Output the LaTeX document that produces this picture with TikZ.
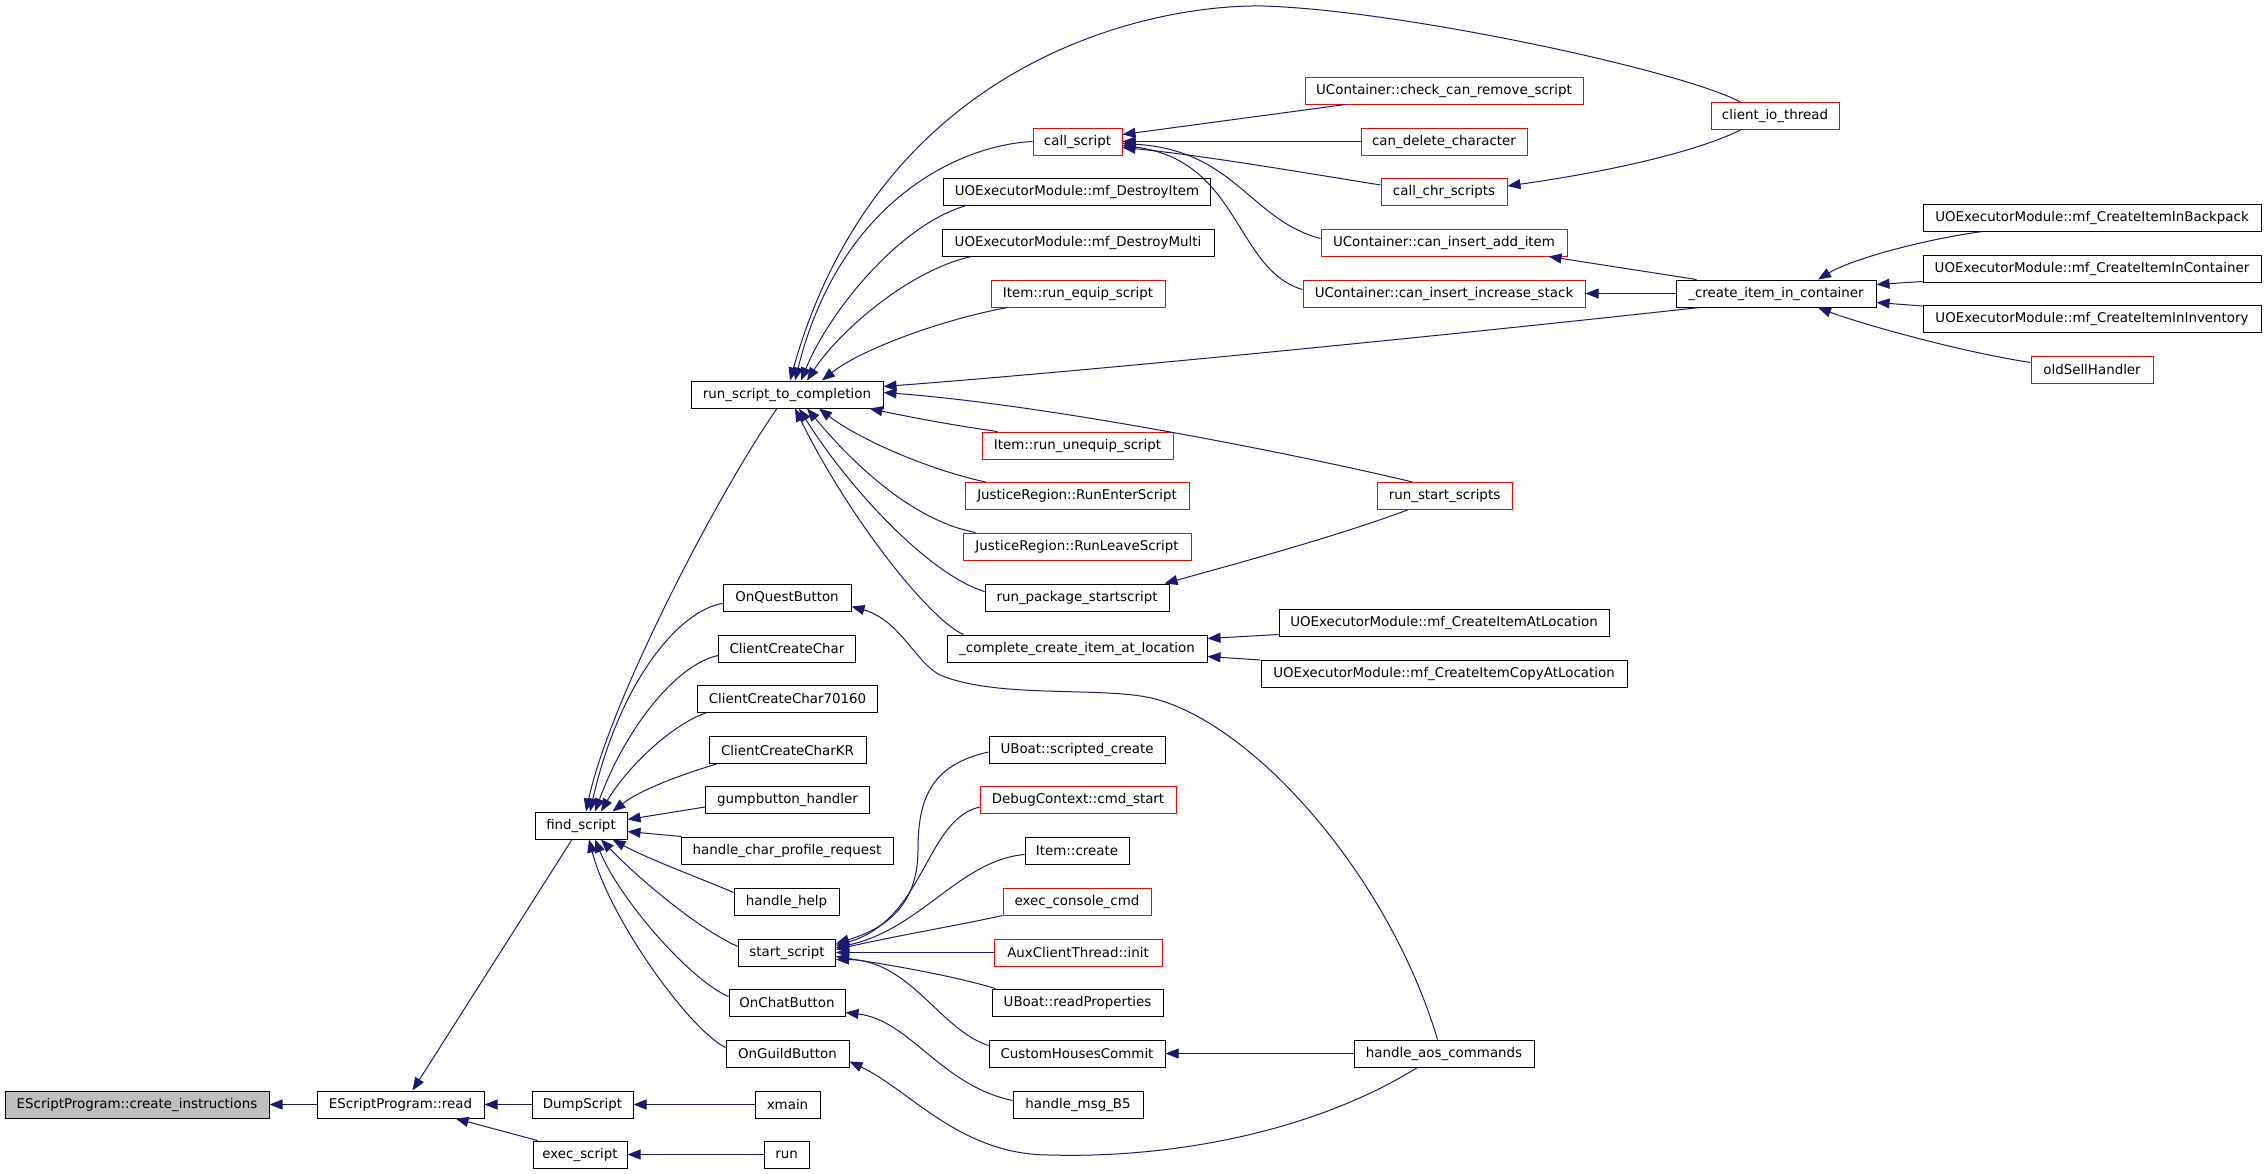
\documentclass[tikz,border=0pt]{standalone}
\usepackage{fontspec}
\setmainfont{DejaVu Sans}
\usetikzlibrary{arrows.meta,calc}
\definecolor{edgeblue}{RGB}{25,25,112}
\definecolor{boxgray}{RGB}{191,191,191}
\definecolor{boxred}{RGB}{255,0,0}
\begin{document}
\begin{tikzpicture}[x=1pt,y=-1pt,
  box/.style={draw=black, rectangle, line width=1pt, minimum height=27pt, inner sep=0pt, fill=white,
    font=\fontsize{13.4}{16}\selectfont},
  rbox/.style={box, draw=boxred},
  arr/.style={draw=edgeblue, line width=1pt, -{Triangle[length=13pt,width=10pt]}, fill=none}]
\fill[white] (0,0) rectangle (2267,1173);
\useasboundingbox (0,0) rectangle (2267,1173);
% column 0-1
\node[box, fill=boxgray, minimum width=264pt] (ci) at (137,1104.5) {EScriptProgram::create\_instructions};
\node[box, minimum width=167pt] (read) at (400.5,1104.5) {EScriptProgram::read};
\node[box, minimum width=101pt] (dump) at (582.5,1104.5) {DumpScript};
\node[box, minimum width=65pt] (xmain) at (787.5,1104.5) {xmain};
\node[box, minimum width=94pt] (exec) at (580,1154.5) {exec\_script};
\node[box, minimum width=45pt] (run) at (786.5,1154.5) {run};
\node[box, minimum width=92pt] (find) at (581,825.5) {find\_script};
% column 2
\node[box, minimum width=192pt] (rstc) at (787,394.5) {run\_script\_to\_completion};
\node[box, minimum width=128pt] (onquest) at (787,597.5) {OnQuestButton};
\node[box, minimum width=137pt] (ccc) at (787,648.5) {ClientCreateChar};
\node[box, minimum width=180pt] (ccc7) at (787.5,698.5) {ClientCreateChar70160};
\node[box, minimum width=157pt] (ccckr) at (787.5,750) {ClientCreateCharKR};
\node[box, minimum width=164pt] (gump) at (787.5,800) {gumpbutton\_handler};
\node[box, minimum width=212pt] (hcpr) at (787,850.5) {handle\_char\_profile\_request};
\node[box, minimum width=105pt] (hhelp) at (786.5,901.5) {handle\_help};
\node[box, minimum width=97pt] (start) at (787,952.5) {start\_script};
\node[box, minimum width=116pt] (onchat) at (787,1002.5) {OnChatButton};
\node[box, minimum width=123pt] (onguild) at (787.5,1053.5) {OnGuildButton};
% column 3
\node[rbox, minimum width=89pt] (call) at (1077.5,141.5) {call\_script};
\node[box, minimum width=267pt] (destroyitem) at (1077,192) {UOExecutorModule::mf\_DestroyItem};
\node[box, minimum width=272pt] (destroymulti) at (1078,242.5) {UOExecutorModule::mf\_DestroyMulti};
\node[rbox, minimum width=174pt] (runequip) at (1078,293.5) {Item::run\_equip\_script};
\node[rbox, minimum width=191pt] (rununequip) at (1077.5,445.5) {Item::run\_unequip\_script};
\node[rbox, minimum width=224pt] (runenter) at (1077,496) {JusticeRegion::RunEnterScript};
\node[rbox, minimum width=228pt] (runleave) at (1077,546.5) {JusticeRegion::RunLeaveScript};
\node[box, minimum width=184pt] (rpss) at (1077,597.5) {run\_package\_startscript};
\node[box, minimum width=260pt] (ccial) at (1077,648.5) {\_complete\_create\_item\_at\_location};
\node[box, minimum width=176pt] (uboatsc) at (1077,750) {UBoat::scripted\_create};
\node[rbox, minimum width=196pt] (dbgcmd) at (1078,800) {DebugContext::cmd\_start};
\node[box, minimum width=104pt] (itemcreate) at (1077,850.5) {Item::create};
\node[rbox, minimum width=148pt] (execcons) at (1077,901.5) {exec\_console\_cmd};
\node[rbox, minimum width=168pt] (auxinit) at (1078,952.5) {AuxClientThread::init};
\node[box, minimum width=171pt] (uboatrp) at (1077.5,1002.5) {UBoat::readProperties};
\node[box, minimum width=176pt] (chc) at (1077,1053.5) {CustomHousesCommit};
\node[box, minimum width=130pt] (hmsgb5) at (1078,1104.5) {handle\_msg\_B5};
% column 4
\node[rbox, minimum width=278pt] (checkrem) at (1444,90.5) {UContainer::check\_can\_remove\_script};
\node[rbox, minimum width=166pt] (candel) at (1444,141.5) {can\_delete\_character};
\node[rbox, minimum width=126pt] (callchr) at (1444,192) {call\_chr\_scripts};
\node[rbox, minimum width=246pt] (caninsadd) at (1444,242.5) {UContainer::can\_insert\_add\_item};
\node[rbox, minimum width=282pt] (caninsinc) at (1444,293.5) {UContainer::can\_insert\_increase\_stack};
\node[rbox, minimum width=135pt] (rss) at (1444.5,496) {run\_start\_scripts};
\node[box, minimum width=330pt] (mfcial) at (1444,622.5) {UOExecutorModule::mf\_CreateItemAtLocation};
\node[box, minimum width=366pt] (mfcicl) at (1444,674) {UOExecutorModule::mf\_CreateItemCopyAtLocation};
\node[box, minimum width=180pt] (haos) at (1444,1053.5) {handle\_aos\_commands};
% column 5
\node[rbox, minimum width=128pt] (cio) at (1775,116) {client\_io\_thread};
\node[box, minimum width=200pt] (cic) at (1776,293.5) {\_create\_item\_in\_container};
% column 6
\node[box, minimum width=338pt] (backpack) at (2092,217.5) {UOExecutorModule::mf\_CreateItemInBackpack};
\node[box, minimum width=338pt] (container) at (2092,268.5) {UOExecutorModule::mf\_CreateItemInContainer};
\node[box, minimum width=338pt] (inventory) at (2092,319) {UOExecutorModule::mf\_CreateItemInInventory};
\node[rbox, minimum width=122pt] (oldsell) at (2092,369.5) {oldSellHandler};

% edges: left part
\draw[arr] (read.west) -- (ci.east);
\draw[arr] (dump.west) -- (read.east);
\draw[arr] (xmain.west) -- (dump.east);
\draw[arr] (run.west) -- (exec.east);
\draw[arr] ($(exec.north west)+(5,0)$) -- ($(read.south east)+(-29,0)$);
\draw[arr] ($(find.south)+(-9,0)$) -- ($(read.north)+(12,0)$);
% into find_script
\draw[arr] ($(rstc.south)+(-10,0)$) .. controls (720,490) and (610,700) .. ($(find.north)+(5,0)$);
\draw[arr] ($(onquest.west)+(0,6)$) .. controls (680,610) and (620,680) .. ($(find.north)+(9,0)$);
\draw[arr] ($(ccc.west)+(0,7)$) .. controls (675,665) and (625,730) .. ($(find.north)+(14,0)$);
\draw[arr] ($(ccc7.south west)+(10,0)$) .. controls (670,725) and (625,770) .. ($(find.north)+(20,0)$);
\draw[arr] ($(ccckr.south west)+(8,0)$) .. controls (680,775) and (640,790) .. ($(find.north east)+(-15,0)$);
\draw[arr] ($(gump.west)+(0,7)$) -- ($(find.east)+(0,-6)$);
\draw[arr] ($(hcpr.north west)+(1,0)$) -- ($(find.east)+(0,6)$);
\draw[arr] ($(hhelp.west)+(0,-9)$) .. controls (705,880) and (650,860) .. ($(find.south east)+(-15,0)$);
\draw[arr] ($(start.west)+(0,-6)$) .. controls (700,930) and (640,880) .. ($(find.south)+(20,0)$);
\draw[arr] ($(onchat.west)+(0,-6)$) .. controls (690,980) and (620,900) .. ($(find.south)+(14,0)$);
\draw[arr] ($(onguild.west)+(0,-6)$) .. controls (690,1030) and (610,920) .. ($(find.south)+(8,0)$);
% into run_script_to_completion
\draw[arr] (call.west) .. controls (960,145) and (840,200) .. ($(rstc.north)+(8,0)$);
\draw[arr] ($(destroyitem.south west)+(22,0)$) .. controls (900,225) and (830,310) .. ($(rstc.north)+(14,0)$);
\draw[arr] ($(destroymulti.south west)+(30,0)$) .. controls (910,270) and (840,330) .. ($(rstc.north)+(20,0)$);
\draw[arr] ($(runequip.south west)+(17,0)$) .. controls (940,320) and (860,350) .. ($(rstc.north)+(35,0)$);
\draw[arr] ($(cio.north west)+(30,0)$) .. controls (1680,70) and (1400,10) .. (1263,6) .. controls (1150,4) and (880,60) .. ($(rstc.north)+(3,0)$);
\draw[arr] ($(cic.south west)+(24,0)$) .. controls (1450,335) and (1100,370) .. ($(rstc.east)+(0,-8)$);
\draw[arr] ($(rss.north west)+(36,0)$) .. controls (1300,455) and (1050,405) .. ($(rstc.east)+(0,-2)$);
\draw[arr] ($(rununequip.north west)+(16,0)$) .. controls (950,425) and (900,415) .. ($(rstc.south east)+(-14,0)$);
\draw[arr] ($(runenter.north west)+(21,0)$) .. controls (930,470) and (860,440) .. ($(rstc.south)+(32,0)$);
\draw[arr] ($(runleave.north west)+(13,0)$) .. controls (910,520) and (850,460) .. ($(rstc.south)+(20,0)$);
\draw[arr] ($(rpss.west)+(0,-6)$) .. controls (930,575) and (850,490) .. ($(rstc.south)+(12,0)$);
\draw[arr] ($(ccial.north west)+(17,0)$) .. controls (930,620) and (850,520) .. ($(rstc.south)+(8,0)$);
% into call_script
\draw[arr] ($(checkrem.south west)+(41,0)$) -- ($(call.east)+(0,-7)$);
\draw[arr] (candel.west) -- (call.east);
\draw[arr] ($(callchr.west)+(0,-7)$) .. controls (1300,172) and (1200,155) .. ($(call.east)+(0,6)$);
\draw[arr] ($(caninsadd.west)+(0,-4)$) .. controls (1250,220) and (1235,150) .. ($(call.east)+(0,2)$);
\draw[arr] ($(caninsinc.west)+(0,-4)$) .. controls (1235,270) and (1240,160) .. ($(call.east)+(0,4)$);
% right part
\draw[arr] ($(cio.south west)+(30,0)$) .. controls (1700,150) and (1620,170) .. ($(callchr.east)+(0,-6)$);
\draw[arr] ($(cic.north west)+(21,0)$) -- ($(caninsadd.south east)+(-19,0)$);
\draw[arr] (cic.west) -- (caninsinc.east);
\draw[arr] ($(backpack.south west)+(60,0)$) .. controls (1920,240) and (1850,260) .. ($(cic.north)+(42,0)$);
\draw[arr] ($(container.west)+(0,13)$) -- ($(cic.east)+(0,-9)$);
\draw[arr] ($(inventory.west)+(0,-13)$) -- ($(cic.east)+(0,9)$);
\draw[arr] ($(oldsell.west)+(0,-7)$) .. controls (1950,350) and (1850,320) .. ($(cic.south)+(42,0)$);
\draw[arr] ($(rss.south west)+(31,0)$) .. controls (1340,535) and (1250,560) .. ($(rpss.north east)+(-5,0)$);
\draw[arr] ($(mfcial.west)+(0,12)$) -- ($(ccial.east)+(0,-10)$);
\draw[arr] (mfcicl.north west) -- ($(ccial.east)+(0,8)$);
% into start_script
\draw[arr] ($(uboatsc.west)+(0,2)$) .. controls (930,765) and (918,800) .. (918,850) .. controls (918,910) and (880,930) .. ($(start.east)+(0,-9)$);
\draw[arr] ($(dbgcmd.west)+(0,7)$) .. controls (925,820) and (925,920) .. ($(start.east)+(0,-7)$);
\draw[arr] ($(itemcreate.west)+(0,4)$) .. controls (960,860) and (920,930) .. ($(start.east)+(0,-5)$);
\draw[arr] (execcons.south west) .. controls (960,925) and (900,935) .. ($(start.east)+(0,-3)$);
\draw[arr] (auxinit.west) -- (start.east);
\draw[arr] ($(uboatrp.north west)+(4,0)$) .. controls (950,975) and (890,965) .. ($(start.east)+(0,4)$);
\draw[arr] ($(chc.west)+(0,-8)$) .. controls (940,1030) and (910,960) .. ($(start.east)+(0,7)$);
% handle_aos_commands and others
\draw[arr] (haos.west) -- (chc.east);
\draw[arr] ($(hmsgb5.west)+(0,-4)$) .. controls (940,1085) and (910,1020) .. ($(onchat.east)+(0,10)$);
\draw[arr] ($(haos.south west)+(64,0)$) .. controls (1300,1140) and (1150,1158) .. (1050,1155) .. controls (960,1155) and (910,1090) .. ($(onguild.east)+(0,8)$);
\draw[arr] ($(haos.north west)+(84,0)$) .. controls (1390,880) and (1260,730) .. (1159,700) .. controls (1110,685) and (1000,700) .. (940,675) .. controls (915,662) and (900,620) .. ($(onquest.east)+(0,9)$);
\end{tikzpicture}
\end{document}
